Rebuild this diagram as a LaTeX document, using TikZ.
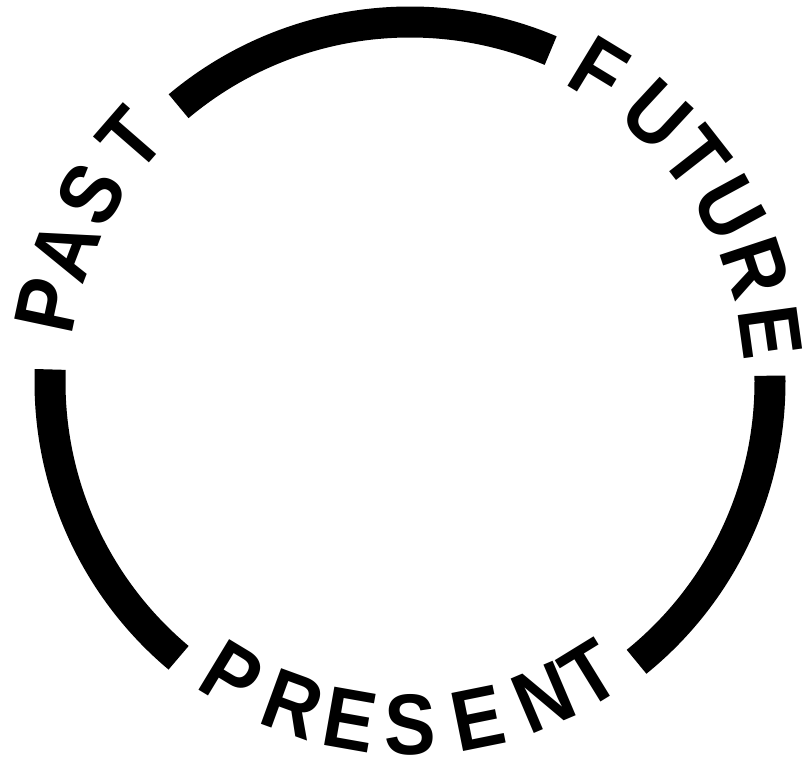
\documentclass[tikz,border=0pt]{standalone}
\usepackage{fontspec}
\setmainfont{Liberation Sans}
\tikzset{
  ring/.style={
    x=1pt,
    y=1pt
  },
  ring arc/.style={
    line width=31pt
  },
  ring letter/.style={
    font=\bfseries\fontsize{86}{86}\selectfont,
    inner sep=0pt,
    anchor=center,
    xscale=0.9
  }
}

\begin{document}
\begin{tikzpicture}[ring]
  \useasboundingbox (-410,-389) rectangle (395,382);
  \draw[ring arc] (130:360) arc[start angle=130,end angle=67,radius=360];
  \draw[ring arc] (1:360) arc[start angle=1,end angle=-51,radius=360];
  \draw[ring arc] (178:360) arc[start angle=178,end angle=230,radius=360];
  \foreach \ch/\ang [count=\i] in {P/168,A/159,S/149.5,T/139}
    \node[rotate=\ang-90,ring letter] (past-\i) at (\ang:370) {\ch};
  \foreach \ch/\ang [count=\i] in {F/58.7,U/47.2,T/38,U/28.5,R/18.3,E/7.9}
    \node[rotate=\ang-90,ring letter] (future-\i) at (\ang:364) {\ch};
  \foreach \ch/\ang [count=\i] in {P/-121.2,R/-110,E/-100,S/-90,E/-78.6,N/-67,T/-58.4}
    \node[rotate=\ang+90,ring letter] (present-\i) at (\ang:343) {\ch};
\end{tikzpicture}
\end{document}
